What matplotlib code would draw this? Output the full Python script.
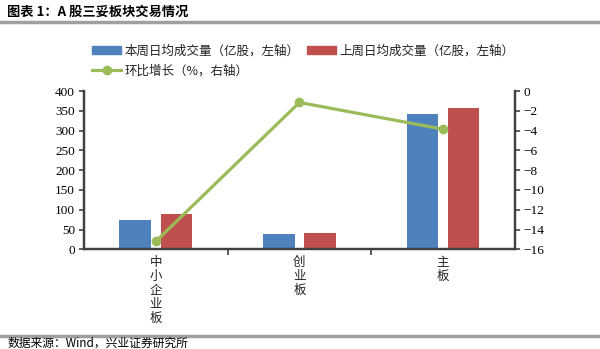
import numpy as np
import matplotlib
matplotlib.use("Agg")
import matplotlib.pyplot as plt
from matplotlib.lines import Line2D
from matplotlib.patches import Patch

plt.rcParams['font.family'] = ['Noto Sans CJK SC', 'DejaVu Sans']

# donnees
categories = ["中\n小\n企\n业\n板", "创\n业\n板", "主\n板"]
vol_this_week = [74, 38, 343]
vol_last_week = [88, 40, 356]
wow_change = [-15.2, -1.15, -3.85]

blue = "#4F81BD"
red = "#C0504D"
green = "#9BBB59"
axcol = "#404040"

fig = plt.figure(figsize=(6.0, 3.49), dpi=100)
ax = fig.add_axes([0.14, 0.2857, 0.718, 0.4533])
ax2 = ax.twinx()

x = np.arange(len(categories))
w = 0.22
ax.bar(x - 0.143, vol_this_week, width=w, color=blue, zorder=2)
ax.bar(x + 0.143, vol_last_week, width=w, color=red, zorder=2)
ax2.plot(x, wow_change, color=green, lw=2.3, marker="o", ms=6, zorder=3)

ax.set_xlim(-0.5, 2.5)
ax.set_ylim(0, 400)
ax.set_yticks(np.arange(0, 401, 50))
ax2.set_ylim(-16, 0)
ax2.set_yticks(np.arange(-16, 1, 2))

ax.set_xticks(x)
ax.set_xticklabels(categories, fontsize=9, linespacing=1.1, va="top", color="#222222")
ax.set_xticks([0.5, 1.5], minor=True)
ax.tick_params(axis="x", which="major", length=0, pad=5)
ax.tick_params(axis="x", which="minor", length=4, width=1.2, color=axcol)

# chiffres en serif
ax.tick_params(axis="y", length=3.5, width=1.2, color=axcol, pad=3, labelcolor="black",
               labelsize=9.5, labelfontfamily="Liberation Serif")
ax2.tick_params(axis="y", length=3.5, width=1.2, color=axcol, pad=3, labelcolor="black",
                labelsize=9.5, labelfontfamily="Liberation Serif")

for a in (ax, ax2):
    a.spines["top"].set_visible(False)
    for s in ("left", "right", "bottom"):
        a.spines[s].set_linewidth(1.6)
        a.spines[s].set_color(axcol)

# legende
handles = [Patch(color=blue), Line2D([], [], color=green, lw=2.3, marker="o", ms=6),
           Patch(color=red)]
labels = ["本周日均成交量（亿股，左轴）", "环比增长（%，右轴）", "上周日均成交量（亿股，左轴）"]
fig.legend(handles, labels, ncol=2, loc="upper left", bbox_to_anchor=(0.135, 0.905),
           frameon=False, fontsize=9, handlelength=2.3, handleheight=0.6,
           columnspacing=0.6, handletextpad=0.3, labelspacing=0.55,
           labelcolor="#222222")

# titre et source
fig.text(0.012, 0.965, "图表 1：A 股三妥板块交易情况", fontsize=9.5, fontweight="bold", va="center")
fig.add_artist(Line2D([0, 1], [0.937, 0.937], color="#A0A0A0", lw=2.5))
fig.add_artist(Line2D([0, 1], [0.038, 0.038], color="#A0A0A0", lw=2.5))
fig.text(0.012, 0.017, "数据来源：Wind，兴业证券研究所", fontsize=8.5, va="center")

fig.savefig("out.png", dpi=100)
